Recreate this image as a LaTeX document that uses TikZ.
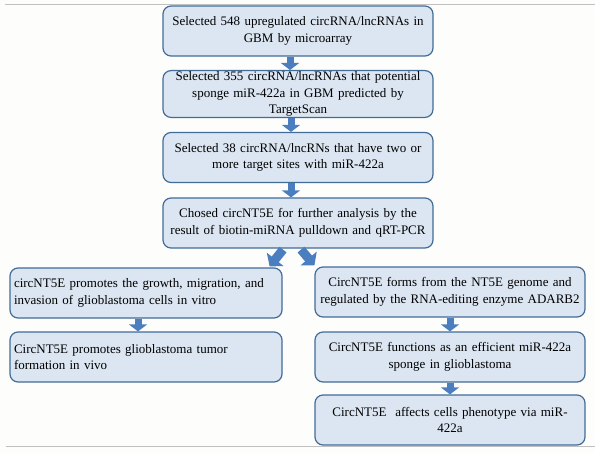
\documentclass[tikz,border=0pt]{standalone}
\usepackage{fontspec}
\setmainfont{Liberation Serif}
\usetikzlibrary{arrows.meta}
\usetikzlibrary{positioning}
\usetikzlibrary{calc}

\definecolor{boxfill}{RGB}{220,230,242}
\definecolor{boxline}{RGB}{66,108,152}
\definecolor{arrowblue}{RGB}{74,126,190}
\definecolor{rulegray}{RGB}{192,192,192}

\begin{document}
\begin{tikzpicture}[x=1pt, y=-1pt,
    every node/.style={rectangle, rounded corners=8pt, draw=boxline, fill=boxfill, line width=1.2pt,
      inner xsep=4pt, inner ysep=1pt, font=\fontsize{13}{16.5}\selectfont},
    flowbox/.style={text width=262pt, minimum height=50pt, align=center},
    leftbox/.style={text width=264pt, minimum height=50pt, align=left},
    blockarrow/.style={draw=arrowblue, line width=7pt, -{Triangle[width=18pt, length=7pt]}},
    splitarrow/.style={draw=arrowblue, line width=9pt, -{Triangle[width=21pt, length=9pt]}}]

        % Page and frame lines
        \useasboundingbox[fill={rgb,255:red,253;green,253;blue,251}] (0,0) rectangle (595,453);
        \draw[rulegray, line width=0.8pt] (5,4) -- (595,4);
        \draw[rulegray, line width=0.8pt] (6,446) -- (595,446);

        % Screening steps
        \node[flowbox] (b1) at (298, 31) {Selected 548 upregulated circRNA/lncRNAs in\\GBM by microarray};
        \node[flowbox, minimum height=46pt] (b2) at (298, 94) {Selected 355 circRNA/lncRNAs that potential\\sponge miR-422a in GBM predicted by\\TargetScan};
        \node[flowbox] (b3) at (298, 157.5) {Selected 38 circRNA/lncRNs that have two or\\more target sites with miR-422a};
        \node[flowbox] (b4) at (298, 223) {Chosed circNT5E for further analysis by the\\result of biotin-miRNA pulldown and qRT-PCR};

        % Left branch
        \node[leftbox] (l1) at (146, 293) {circNT5E promotes the growth, migration, and\\invasion of glioblastoma cells in vitro};
        \node[leftbox] (l2) at (146, 357) {CircNT5E promotes glioblastoma tumor\\formation in vivo};

        % Right branch
        \node[flowbox] (r1) at (450, 292) {CircNT5E forms from the NT5E genome and\\regulated by the RNA-editing enzyme ADARB2};
        \node[flowbox] (r2) at (450, 357) {CircNT5E functions as an efficient miR-422a\\sponge in glioblastoma};
        \node[flowbox] (r3) at (450, 420) {CircNT5E\ \ affects cells phenotype via miR-\\422a};

        % Arrows down the main column
        \draw[blockarrow] ([xshift=-8pt]b1.south) -- ([xshift=-8pt]b2.north);
        \draw[blockarrow] ([xshift=-7pt]b2.south) -- ([xshift=-7pt]b3.north);
        \draw[blockarrow] ([xshift=-7pt]b3.south) -- ([xshift=-7pt]b4.north);

        % Split into two branches
        \draw[splitarrow] ([xshift=-15pt, yshift=-1pt]b4.south) -- ([xshift=-13pt, yshift=1pt]l1.north east);
        \draw[splitarrow] ([xshift=3pt, yshift=-1pt]b4.south) -- ([xshift=0pt, yshift=1pt]r1.north west);

        % Arrows inside the branches
        \draw[blockarrow] ([xshift=-8pt]l1.south) -- ([xshift=-8pt]l2.north);
        \draw[blockarrow] (r1.south) -- (r2.north);
        \draw[blockarrow] (r2.south) -- (r3.north);

\end{tikzpicture}
\end{document}
